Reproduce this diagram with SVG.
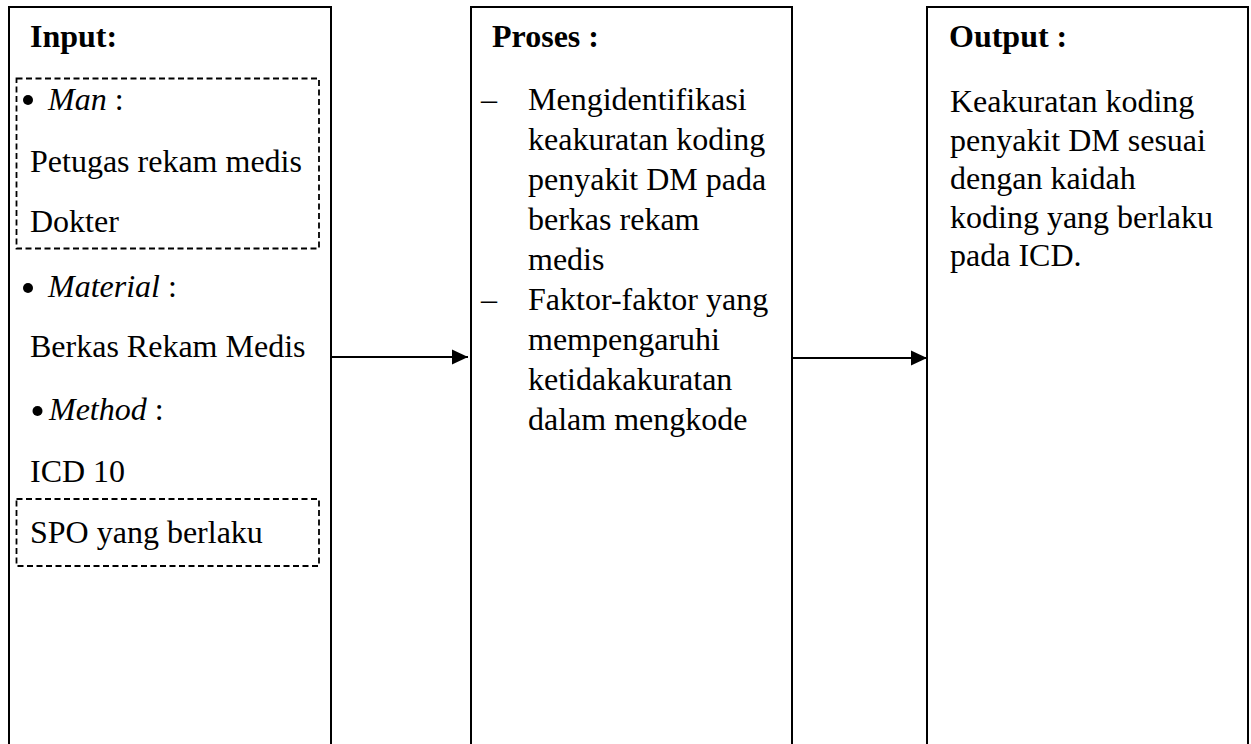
<svg xmlns="http://www.w3.org/2000/svg" width="1251" height="744" viewBox="0 0 1251 744">
<style>
.box{fill:#fff;stroke:#000;stroke-width:2}
.dash{fill:none;stroke:#000;stroke-width:1.8;stroke-dasharray:6 3.5}
.t{font-family:"Liberation Serif","Times New Roman",serif;font-size:32px;fill:#000}
.b{font-weight:bold}
.i{font-style:italic}
.bul{fill:#000}
.conn{stroke:#000;stroke-width:2.2;fill:none}
</style>
<defs>
<marker id="arr" markerUnits="userSpaceOnUse" markerWidth="17" markerHeight="17" refX="16" refY="8" orient="auto">
<path d="M0,0.5 L16,8 L0,15.5 Z" fill="#000"/>
</marker>
</defs>
<rect width="1251" height="744" fill="#fff"/>
<g id="input">
<rect class="box" x="9" y="7" width="322" height="750"/>
<rect class="dash" x="16.5" y="78.5" width="302.5" height="170"/>
<rect class="dash" x="16.5" y="499" width="302.5" height="67"/>
<text class="t b" x="30" y="47">Input:</text>
<circle class="bul" cx="28" cy="100" r="5"/>
<text class="t" x="48" y="110"><tspan class="i">Man</tspan> :</text>
<text class="t" x="30" y="172">Petugas rekam medis</text>
<text class="t" x="30" y="232">Dokter</text>
<circle class="bul" cx="28" cy="288" r="5"/>
<text class="t" x="48" y="297"><tspan class="i">Material</tspan> :</text>
<text class="t" x="30" y="357">Berkas Rekam Medis</text>
<circle class="bul" cx="37.5" cy="411" r="5"/>
<text class="t" x="49" y="420"><tspan class="i">Method</tspan> :</text>
<text class="t" x="30" y="482">ICD 10</text>
<text class="t" x="30" y="543">SPO yang berlaku</text>
</g>
<g id="proses">
<rect class="box" x="471" y="7" width="321" height="750"/>
<text class="t b" x="492" y="47">Proses :</text>
<text class="t" x="481" y="110">–</text>
<text class="t" x="481" y="310">–</text>
<text class="t" x="528" y="110">Mengidentifikasi</text>
<text class="t" x="528" y="150">keakuratan koding</text>
<text class="t" x="528" y="190">penyakit DM pada</text>
<text class="t" x="528" y="230">berkas rekam</text>
<text class="t" x="528" y="270">medis</text>
<text class="t" x="528" y="310">Faktor-faktor yang</text>
<text class="t" x="528" y="350">mempengaruhi</text>
<text class="t" x="528" y="390">ketidakakuratan</text>
<text class="t" x="528" y="430">dalam mengkode</text>
</g>
<g id="output">
<rect class="box" x="927" y="7" width="321" height="750"/>
<text class="t b" x="949" y="47">Output :</text>
<text class="t" x="950" y="112">Keakuratan koding</text>
<text class="t" x="950" y="150.5">penyakit DM sesuai</text>
<text class="t" x="950" y="189">dengan kaidah</text>
<text class="t" x="950" y="227.5">koding yang berlaku</text>
<text class="t" x="950" y="266">pada ICD.</text>
</g>
<g id="connectors">
<line class="conn" x1="331" y1="357" x2="468" y2="357" marker-end="url(#arr)"/>
<line class="conn" x1="792" y1="358" x2="927" y2="358" marker-end="url(#arr)"/>
</g>
</svg>
